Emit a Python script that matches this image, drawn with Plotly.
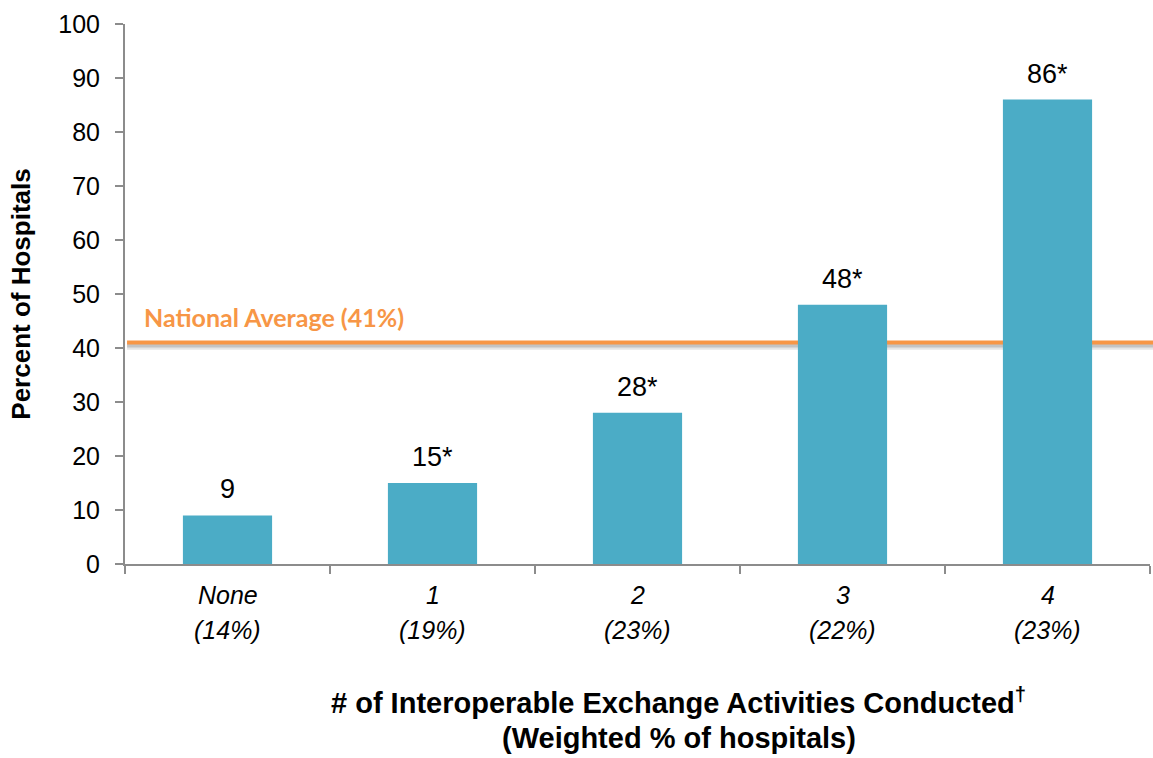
import plotly.graph_objects as go

# Interoperable exchange activities vs. share of hospitals
categories = ["None", "1", "2", "3", "4"]
hospital_shares = ["14%", "19%", "23%", "22%", "23%"]
percent_hospitals = [9, 15, 28, 48, 86]
significant = [False, True, True, True, True]
NATIONAL_AVG = 41

y_ticks = list(range(0, 101, 10))

BAR_COLOR = "#4BACC6"
AVG_COLOR = "#F79646"
AXIS_COLOR = "#8C8C8C"
FONT = "Liberation Sans, Arial, sans-serif"

value_text = [f"{v}{'*' if s else ''}" for v, s in zip(percent_hospitals, significant)]

fig = go.Figure()
fig.add_trace(go.Bar(
    x=categories,
    y=percent_hospitals,
    marker=dict(color=BAR_COLOR, line=dict(width=0)),
    width=0.435,
    hoverinfo="skip",
))

# value labels above each bar
for c, v, t in zip(categories, percent_hospitals, value_text):
    fig.add_annotation(x=c, y=v, xref="x", yref="y", text=t, showarrow=False,
                       yanchor="bottom", yshift=9,
                       font=dict(family=FONT, size=27, color="black"))

# two-line category labels
for c, s in zip(categories, hospital_shares):
    fig.add_annotation(x=c, y=-0.057, xref="x", yref="paper", text=f"<i>{c}</i>",
                       showarrow=False, yanchor="middle",
                       font=dict(family=FONT, size=25, color="black"))
    fig.add_annotation(x=c, y=-0.122, xref="x", yref="paper", text=f"<i>({s})</i>",
                       showarrow=False, yanchor="middle",
                       font=dict(family=FONT, size=25, color="black"))

# national average reference line with soft drop shadow
for dy, col, w in [(-0.75, "rgba(0,0,0,0.10)", 6), (-0.55, "rgba(0,0,0,0.15)", 4)]:
    fig.add_shape(type="line", xref="paper", yref="y", x0=0.002, x1=1.01,
                  y0=NATIONAL_AVG + dy, y1=NATIONAL_AVG + dy,
                  line=dict(color=col, width=w), layer="below")
fig.add_shape(type="line", xref="paper", yref="y", x0=0.002, x1=1.01,
              y0=NATIONAL_AVG, y1=NATIONAL_AVG,
              line=dict(color=AVG_COLOR, width=4), layer="below")
fig.add_annotation(x=0.017, y=NATIONAL_AVG, xref="paper", yref="y",
                   text="<b>National Average (41%)</b>", showarrow=False,
                   xanchor="left", yanchor="bottom", yshift=9,
                   font=dict(family="Lato, Open Sans, sans-serif", size=25, color=AVG_COLOR))

# x-axis title
fig.add_annotation(x=0.54, y=-0.253, xref="paper", yref="paper",
                   text="<b># of Interoperable Exchange Activities Conducted<sup>†</sup></b>",
                   showarrow=False, yanchor="middle",
                   font=dict(family=FONT, size=29, color="black"))
fig.add_annotation(x=0.54, y=-0.323, xref="paper", yref="paper",
                   text="<b>(Weighted % of hospitals)</b>",
                   showarrow=False, yanchor="middle",
                   font=dict(family=FONT, size=29, color="black"))

fig.update_layout(
    width=1153, height=758,
    margin=dict(l=125, r=3, t=24, b=194),
    plot_bgcolor="white", paper_bgcolor="white",
    showlegend=False,
    bargap=0.565,
    xaxis=dict(
        showticklabels=False,
        showline=True, linecolor=AXIS_COLOR, linewidth=2,
        ticks="outside", tickson="boundaries", ticklen=8, tickcolor=AXIS_COLOR, tickwidth=2,
        showgrid=False, zeroline=False,
    ),
    yaxis=dict(
        range=[0, 100], tickvals=y_ticks, ticktext=[str(t) for t in y_ticks],
        showline=True, linecolor=AXIS_COLOR, linewidth=2,
        ticks="outside", ticklen=8, tickcolor=AXIS_COLOR, tickwidth=2,
        showgrid=False, zeroline=False,
        ticklabelstandoff=10,
        tickfont=dict(family=FONT, size=25, color="black"),
        title=dict(text="<b>Percent of Hospitals</b>", standoff=20,
                   font=dict(family=FONT, size=26, color="black")),
    ),
)

fig.write_html("out.html")
